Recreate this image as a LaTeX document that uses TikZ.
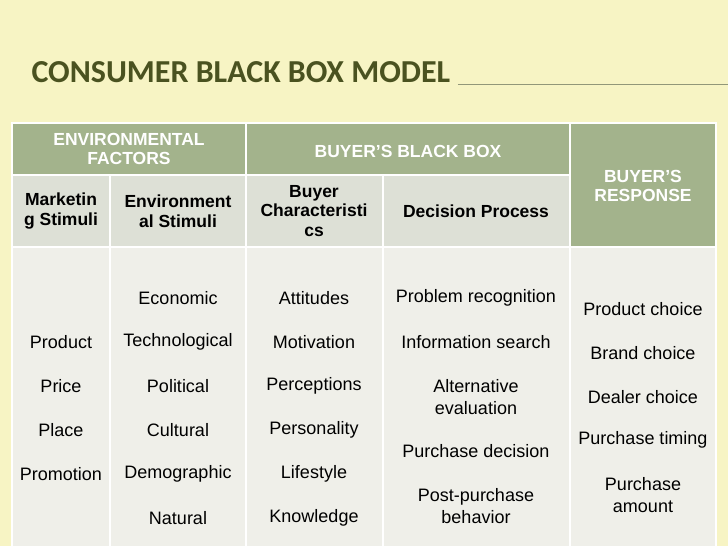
\documentclass[tikz,border=0pt]{standalone}
\usepackage{fontspec}
\setmainfont{Liberation Sans}
\newfontfamily\titlefont{Carlito}
\definecolor{headgreen}{HTML}{A3B38C}
\definecolor{subgrey}{HTML}{DDE0D6}
\definecolor{bodygrey}{HTML}{EFEFE9}
\definecolor{titleolive}{HTML}{4A5220}
\definecolor{paper}{HTML}{F7F4C4}
\tikzset{
  cell/.style={draw=white, line width=1.5pt},
  head/.style={text=white, font=\bfseries\fontsize{17.5}{19.5}\selectfont, align=center},
  sub/.style={text=black, font=\bfseries\fontsize{17.5}{19.5}\selectfont, align=center},
  item/.style={text=black, font=\fontsize{18}{22}\selectfont, align=center}
}
\begin{document}
\begin{tikzpicture}[x=1pt,y=-1pt]
  \useasboundingbox (0,0) rectangle (728,546);
  \fill[paper] (0,0) rectangle (728,546);

  % title
  \node[anchor=base west, text=titleolive, font=\titlefont\bfseries\fontsize{32}{34}\selectfont] (title) at (28,82) {CONSUMER BLACK BOX MODEL};
  \draw[titleolive!60, line width=0.8pt] (title.base east) ++(4,2) coordinate (rule) -- (728,84);

  % cells
  \fill[cell, fill=headgreen] (12,123) rectangle (246,175);
  \fill[cell, fill=headgreen] (246,123) rectangle (570,175);
  \fill[cell, fill=headgreen] (570,123) rectangle (716,247);
  \fill[cell, fill=subgrey] (12,175) rectangle (110,247);
  \fill[cell, fill=subgrey] (110,175) rectangle (246,247);
  \fill[cell, fill=subgrey] (246,175) rectangle (383,247);
  \fill[cell, fill=subgrey] (383,175) rectangle (570,247);
  \foreach \a/\b in {12/110,110/246,246/383,383/570,570/716}
    \fill[cell, fill=bodygrey] (\a,247) rectangle (\b,560);

  % headers
  \node[head] (envf) at (129,149) {ENVIRONMENTAL\\FACTORS};
  \node[head] (bbox) at (408,151) {BUYER’S BLACK BOX};
  \node[head] (resp) at (643,186) {BUYER’S\\RESPONSE};
  \node[sub] (mkt) at (61,211) {Marketin\\g Stimuli};
  \node[sub] (envs) at (178,211) {Environment\\al Stimuli};
  \node[sub] (bchar) at (314,211) {Buyer\\Characteristi\\cs};
  \node[sub] (dproc) at (476,211) {Decision Process};

  % body
  \foreach \t [count=\i] in {Product,Price,Place,Promotion}
    \node[item] (m\i) at (61,298+44*\i) {\t};
  \foreach \t [count=\i] in {Economic,Technological,Political,Cultural,Demographic,Natural}
    \node[item] (e\i) at (178,254+44*\i) {\t};
  \foreach \t [count=\i] in {Attitudes,Motivation,Perceptions,Personality,Lifestyle,Knowledge}
    \node[item] (c\i) at (314,254+44*\i) {\t};
  \node[item] (d1) at (476,298) {Problem recognition};
  \node[item] (d2) at (476,342) {Information search};
  \node[item] (d3) at (476,397) {Alternative\\evaluation};
  \node[item] (d4) at (476,451) {Purchase decision};
  \node[item] (d5) at (476,506) {Post-purchase\\behavior};
  \node[item] (r1) at (643,309) {Product choice};
  \node[item] (r2) at (643,353) {Brand choice};
  \node[item] (r3) at (643,397) {Dealer choice};
  \node[item] (r4) at (643,440) {Purchase timing};
  \node[item] (r5) at (643,495) {Purchase\\amount};
\end{tikzpicture}
\end{document}
